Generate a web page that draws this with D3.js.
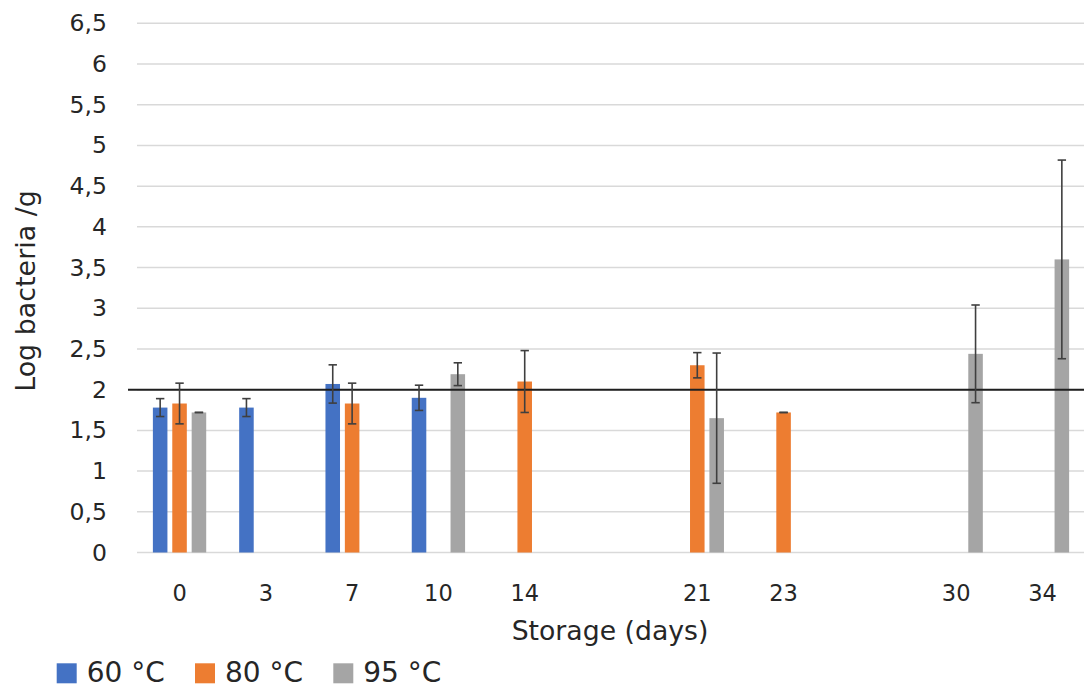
<!DOCTYPE html>
<html>
<head>
<meta charset="utf-8">
<script src="https://cdn.jsdelivr.net/npm/d3@7/dist/d3.min.js"></script>
<style>
  html, body { margin: 0; padding: 0; background: #ffffff; }
  svg { display: block; font-family: "DejaVu Sans", sans-serif; }
</style>
</head>
<body>
<svg id="chart" width="1084" height="688"></svg>
<script>
// Storage day categories (blank slots keep the uneven spacing of the time axis)
const categories = ["0", "3", "7", "10", "14", "", "21", "23", "", "30", "34"];

// Mean log counts per heat treatment, with standard deviations
const series = ["60 °C", "80 °C", "95 °C"];
const values60 = [1.78, 1.78, 2.07, 1.90, null, null, null, null, null, null, null];
const errors60 = [0.11, 0.11, 0.235, 0.155, null, null, null, null, null, null, null];
const values80 = [1.83, null, 1.83, null, 2.10, null, 2.30, 1.72, null, null, null];
const errors80 = [0.25, null, 0.25, null, 0.38, null, 0.155, 0, null, null, null];
const values95 = [1.72, null, null, 2.19, null, null, 1.65, null, null, 2.44, 3.60];
const errors95 = [0, null, null, 0.14, null, null, 0.80, null, null, 0.60, 1.22];

const yTicks = [0, 0.5, 1, 1.5, 2, 2.5, 3, 3.5, 4, 4.5, 5, 5.5, 6, 6.5];
const limitValue = 2;

const colors = ["#4472C4", "#ED7D31", "#A5A5A5"];
const textColor = "#262626";
const seriesValues = [values60, values80, values95];
const seriesErrors = [errors60, errors80, errors95];

const svg = d3.select("#chart");
const plot = { left: 136.4, right: 1085.6, top: 23.3, bottom: 552.5 };

const x0 = d3.scaleBand()
  .domain(d3.range(categories.length))
  .range([plot.left, plot.right])
  .padding(0);

const x1 = d3.scaleBand()
  .domain(series)
  .range([0, x0.bandwidth()])
  .paddingInner(0.25)
  .paddingOuter(0.85);

const y = d3.scaleLinear()
  .domain([0, 6.5])
  .range([plot.bottom, plot.top]);

// horizontal gridlines
svg.append("g")
  .selectAll("line")
  .data(yTicks)
  .join("line")
  .attr("x1", plot.left + 0.6)
  .attr("x2", 1084)
  .attr("y1", d => y(d))
  .attr("y2", d => y(d))
  .attr("stroke", "#d9d9d9")
  .attr("stroke-width", 1.5);

// y axis labels
const yAxis = svg.append("g")
  .attr("transform", `translate(${plot.left},0)`)
  .call(d3.axisLeft(y)
    .tickValues(yTicks)
    .tickSize(0)
    .tickPadding(29.5)
    .tickFormat(d => String(d).replace(".", ",")));
yAxis.select(".domain").remove();
yAxis.selectAll("text")
  .attr("font-family", "DejaVu Sans, sans-serif")
  .attr("font-size", 23.5)
  .attr("fill", textColor);

// x axis labels
const xAxis = svg.append("g")
  .attr("transform", `translate(0,${plot.bottom})`)
  .call(d3.axisBottom(x0)
    .tickSize(0)
    .tickFormat(i => categories[i]));
xAxis.select(".domain").remove();
xAxis.selectAll("text")
  .attr("dy", null)
  .attr("y", 48)
  .attr("font-family", "DejaVu Sans, sans-serif")
  .attr("font-size", 22.5)
  .attr("fill", textColor);

// flatten into bar records
const bars = [];
series.forEach((s, si) => {
  seriesValues[si].forEach((v, ci) => {
    if (v !== null) bars.push({ series: s, si, ci, value: v, err: seriesErrors[si][ci] });
  });
});

svg.append("g")
  .selectAll("rect")
  .data(bars)
  .join("rect")
  .attr("x", d => x0(d.ci) + x1(d.series))
  .attr("width", x1.bandwidth())
  .attr("y", d => y(d.value))
  .attr("height", d => y(0) - y(d.value))
  .attr("fill", d => colors[d.si]);

// reference limit line
svg.append("line")
  .attr("x1", 128)
  .attr("x2", 1084)
  .attr("y1", y(limitValue))
  .attr("y2", y(limitValue))
  .attr("stroke", "#1f1f1f")
  .attr("stroke-width", 2);

// error bars
const capHalf = 4.2;
const eb = svg.append("g")
  .attr("stroke", "#3f3f3f")
  .attr("stroke-width", 1.6)
  .attr("fill", "none");
bars.filter(d => d.err !== null).forEach(d => {
  const cx = x0(d.ci) + x1(d.series) + x1.bandwidth() / 2;
  const yt = y(d.value + d.err);
  const yb = y(d.value - d.err);
  eb.append("line").attr("x1", cx).attr("x2", cx).attr("y1", yt).attr("y2", yb);
  eb.append("line").attr("x1", cx - capHalf).attr("x2", cx + capHalf).attr("y1", yt).attr("y2", yt);
  eb.append("line").attr("x1", cx - capHalf).attr("x2", cx + capHalf).attr("y1", yb).attr("y2", yb);
});

// axis titles
svg.append("text")
  .attr("x", 610)
  .attr("y", 640)
  .attr("text-anchor", "middle")
  .attr("font-size", 26.7)
  .attr("fill", textColor)
  .text("Storage (days)");

svg.append("text")
  .attr("transform", "translate(35,291) rotate(-90)")
  .attr("text-anchor", "middle")
  .attr("font-size", 26.9)
  .attr("fill", textColor)
  .text("Log bacteria /g");

// legend
const legend = svg.append("g");
series.forEach((s, i) => {
  const lx = 56.7 + i * 138.3;
  legend.append("rect")
    .attr("x", lx)
    .attr("y", 663.3)
    .attr("width", 20)
    .attr("height", 20)
    .attr("fill", colors[i]);
  legend.append("text")
    .attr("x", lx + 30)
    .attr("y", 682)
    .attr("font-size", 28)
    .attr("fill", textColor)
    .text(s);
});
</script>
</body>
</html>
